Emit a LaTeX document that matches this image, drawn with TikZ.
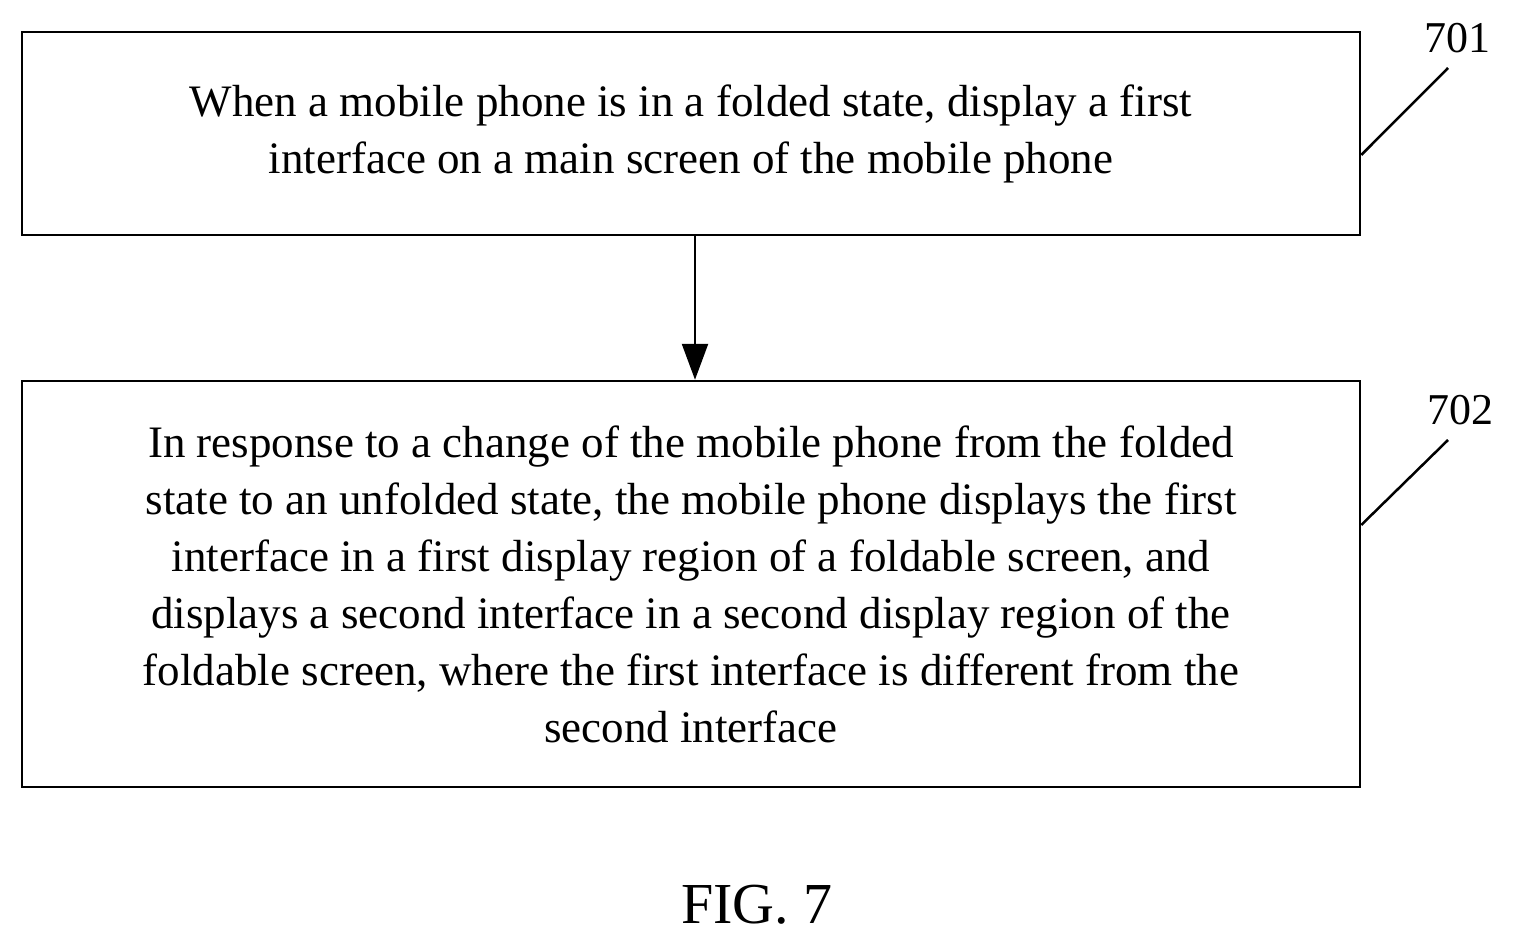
\documentclass[tikz,border=0pt]{standalone}
\usepackage{fontspec}
\setmainfont{Liberation Serif}
\usetikzlibrary{arrows.meta}
\begin{document}
\begin{tikzpicture}[x=1pt,y=-1pt,
  stepbox/.style={draw,line width=2.5pt,minimum width=1338pt,align=center,font=\fontsize{45}{57}\selectfont,inner sep=0pt},
  lbl/.style={font=\fontsize{44}{48}\selectfont,inner sep=0pt}]
\useasboundingbox (0,0) rectangle (1513,944);
\node[stepbox,minimum height=203pt] (b1) at (691,133.5) {When a mobile phone is in a folded state, display a first\\interface on a main screen of the mobile phone};
\node[stepbox,minimum height=406pt] (b2) at (691,584) {In response to a change of the mobile phone from the folded\\state to an unfolded state, the mobile phone displays the first\\interface in a first display region of a foldable screen, and\\displays a second interface in a second display region of the\\foldable screen, where the first interface is different from the\\second interface};
\draw[line width=2.5pt,-{Triangle[length=36pt,width=26pt]}] (b1.south -| 695,0) -- (b2.north -| 695,0);
\node[lbl] (l1) at (1457,38) {701};
\node[lbl] (l2) at (1460,410) {702};
\coordinate (c1) at (1448,68);
\coordinate (c2) at (1448,440);
\draw[line width=2.5pt] (b1.east |- 0,155) -- (c1);
\draw[line width=2.5pt] (b2.east |- 0,525) -- (c2);
\node[lbl,font=\fontsize{58}{60}\selectfont] (fig) at (757,905) {FIG. 7};
\end{tikzpicture}
\end{document}
